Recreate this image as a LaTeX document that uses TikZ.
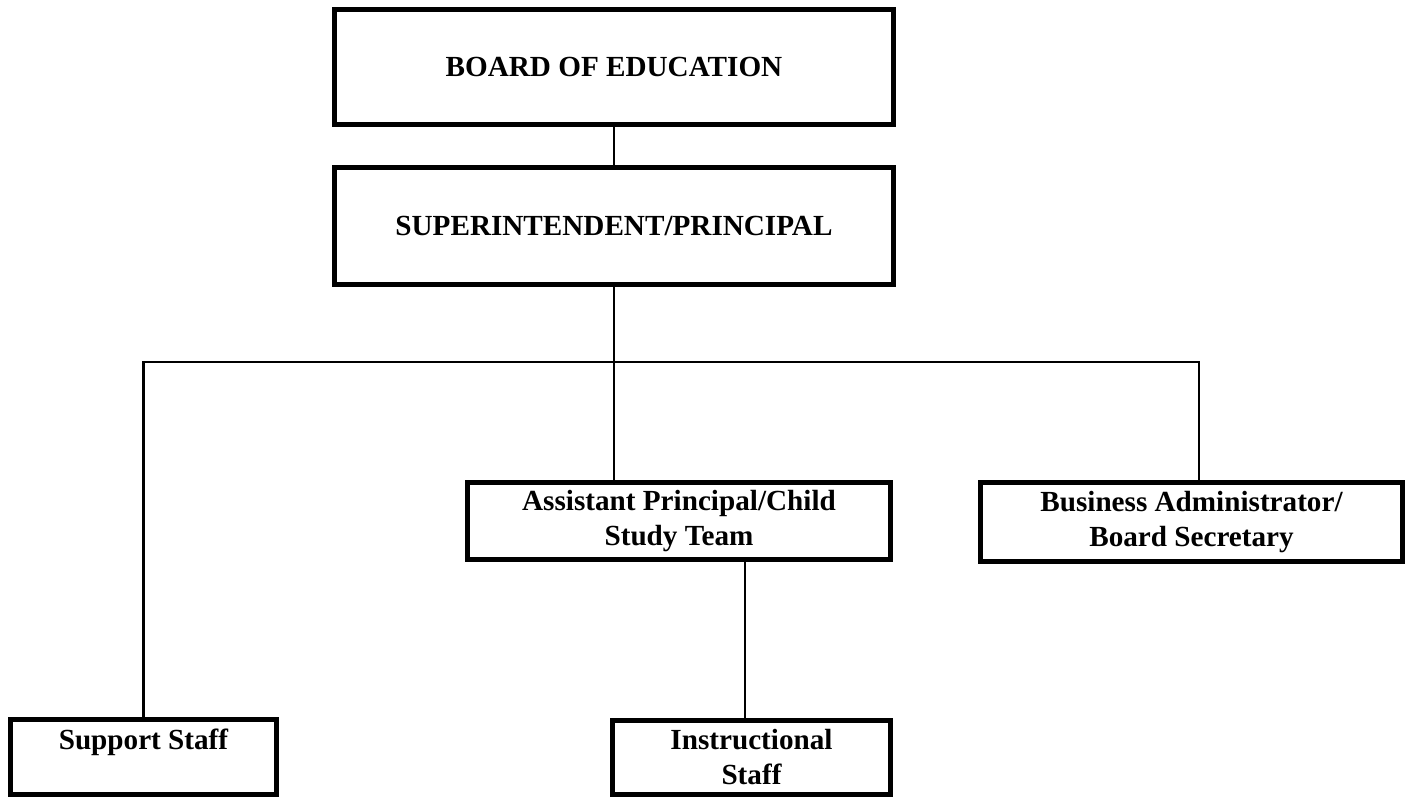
\documentclass[tikz,border=0pt]{standalone}
\usepackage{fontspec}
\newfontfamily\orgserif{Liberation Serif}
\newcommand\orgfont{\orgserif\bfseries\fontsize{16.6}{19.9}\selectfont}

\tikzset{
    orgbox/.style={draw, line width=2.6pt, font=\orgfont, align=center, inner sep=0pt},
    link/.style={line width=1.3pt},
}

\begin{document}
\begin{tikzpicture}
        \useasboundingbox (0,0) rectangle (28.22,15.94);

        \node [orgbox, minimum width=11.19cm, minimum height=2.31cm] (board) at (12.28,14.60) {BOARD OF EDUCATION};
        \node [orgbox, minimum width=11.19cm, minimum height=2.35cm] (super) at (12.28,11.42) {SUPERINTENDENT/PRINCIPAL};
        \node [orgbox, minimum width=8.47cm, minimum height=1.55cm] (asst) at (13.58,5.52) {Assistant Principal/Child\\Study Team};
        \node [orgbox, minimum width=8.45cm, minimum height=1.59cm] (busadm) at (23.83,5.50) {Business Administrator/\\Board Secretary};
        \node [orgbox, minimum width=5.33cm, minimum height=1.51cm] (support) at (2.87,0.80) {Support Staff\\\phantom{Staff}};
        \node [orgbox, minimum width=5.57cm, minimum height=1.49cm] (instr) at (15.03,0.79) {Instructional\\Staff};

        \coordinate (branch) at (23.98,8.70);

        \draw [link] (board) -- (super);
        \draw [link] (super.south) -- (super.south |- asst.north);
        \draw [link] (support.north) |- (branch) -- (branch |- busadm.north);
        \draw [link] ([xshift=-0.13cm]instr.north) -- ([xshift=-0.13cm]instr.north |- asst.south);

\end{tikzpicture}
\end{document}
